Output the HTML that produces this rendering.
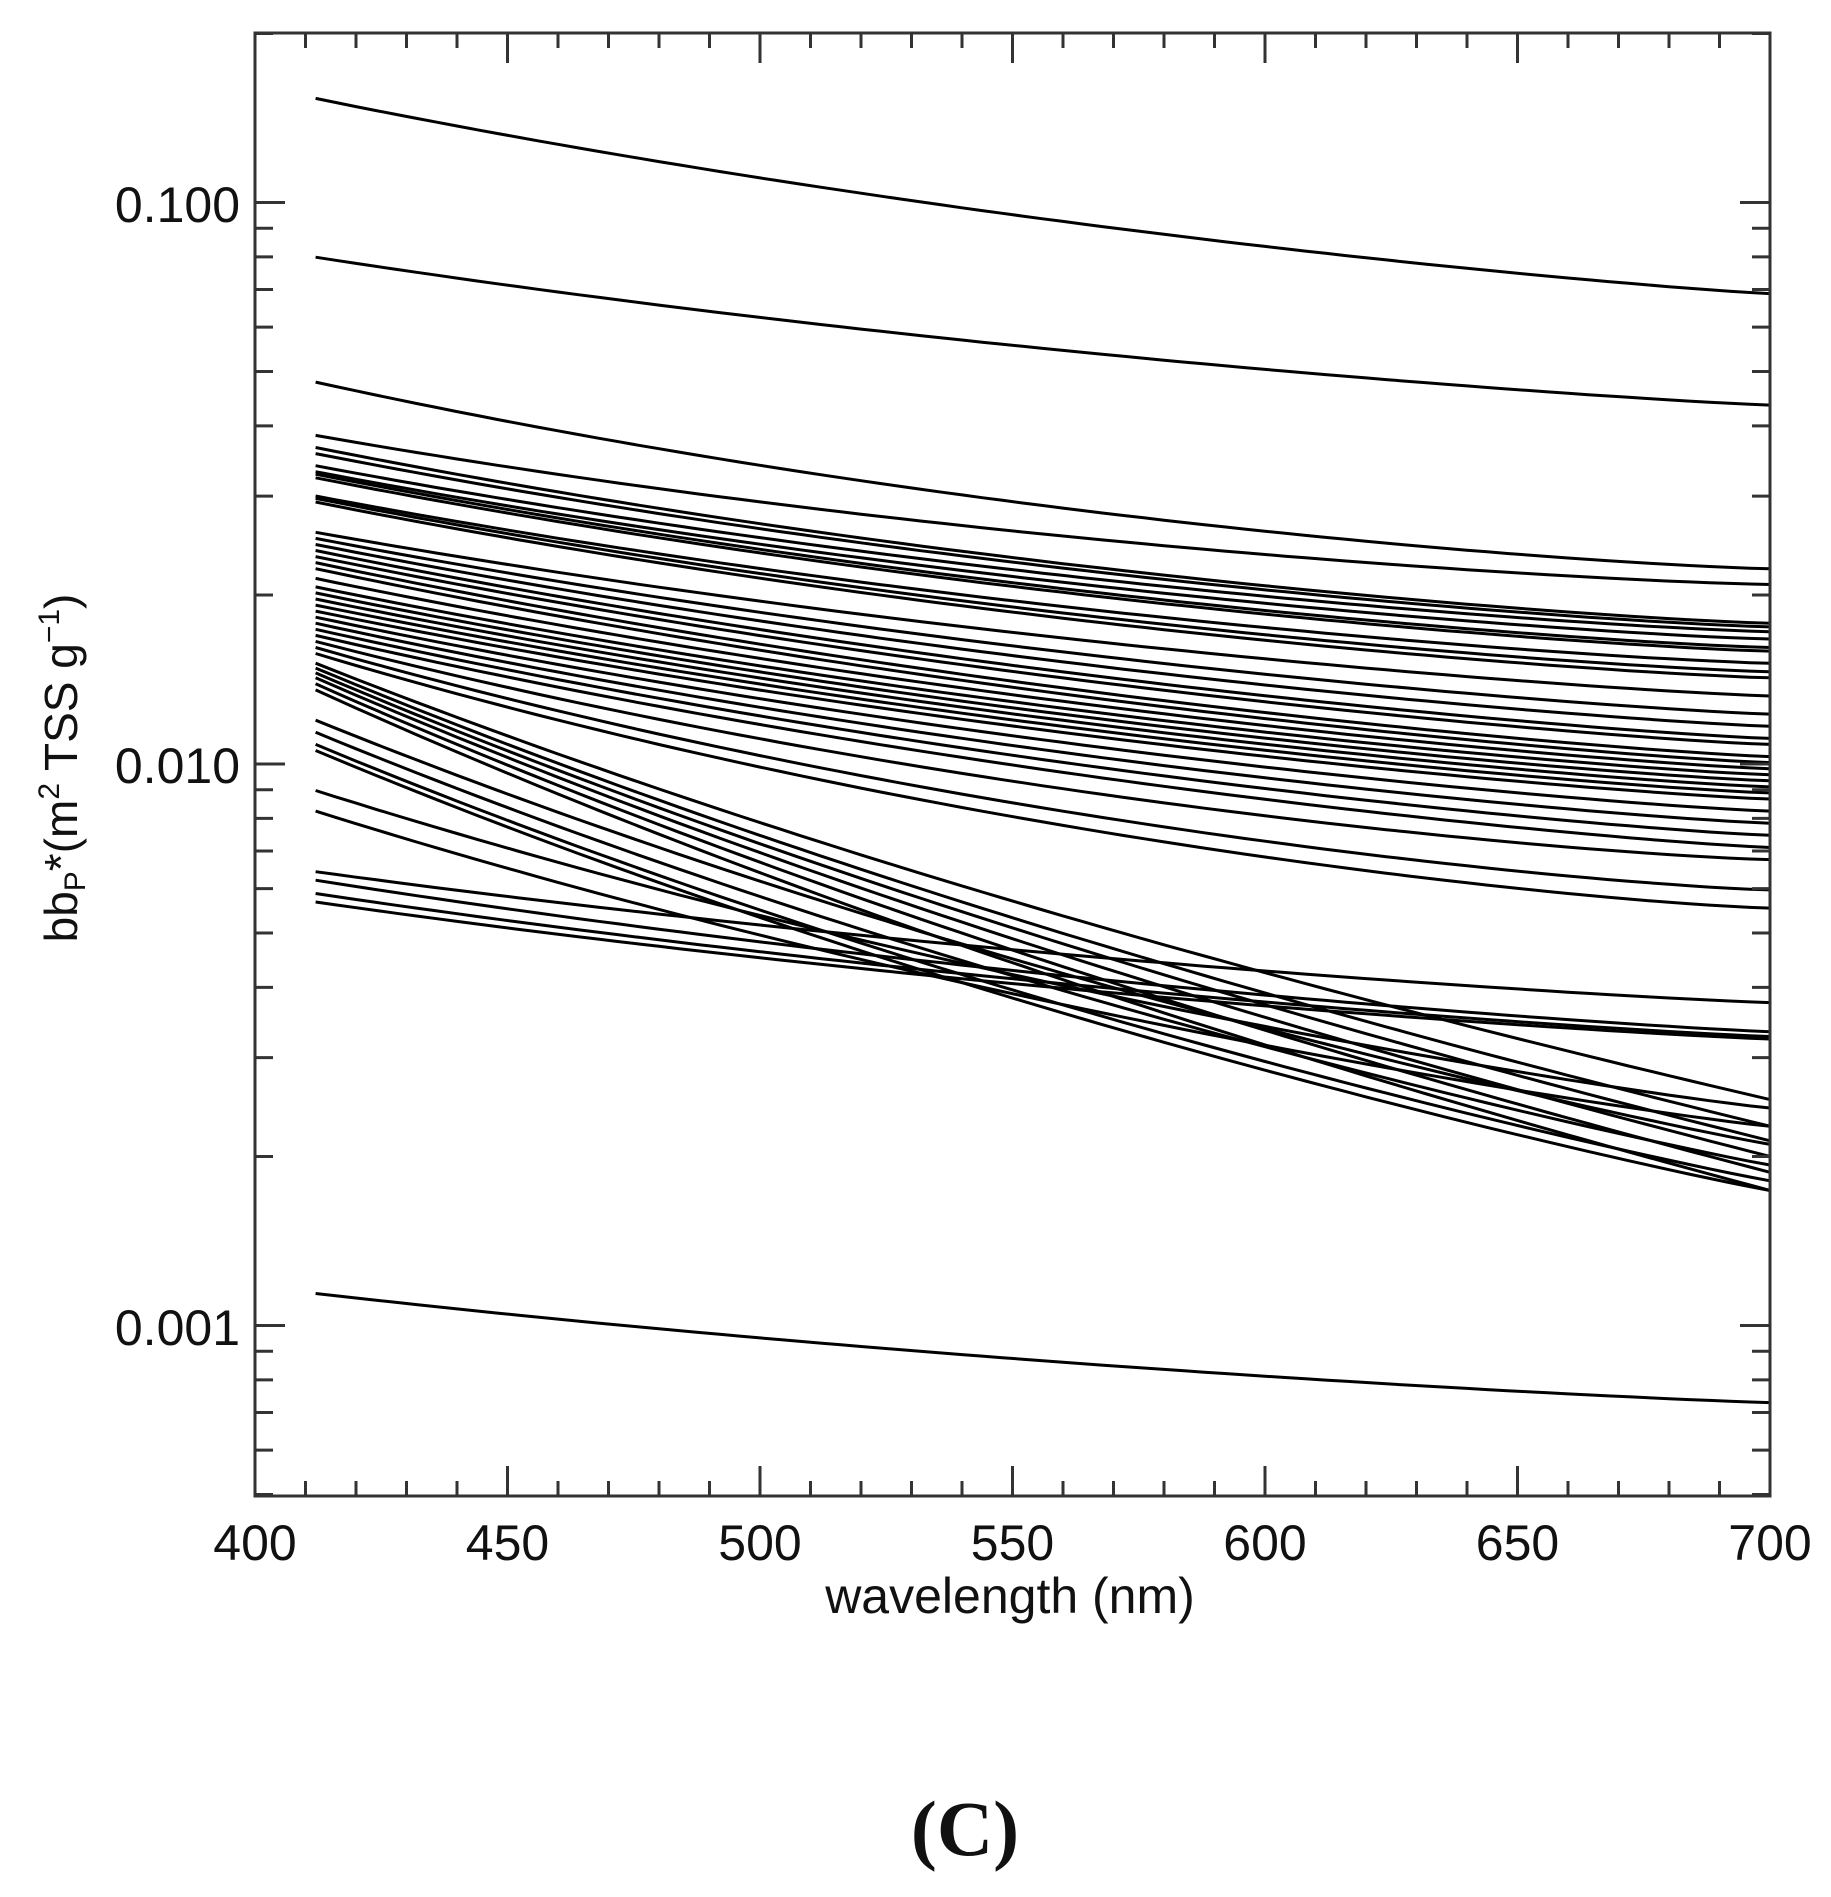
<!DOCTYPE html>
<html><head><meta charset="utf-8"><style>
html,body{margin:0;padding:0;background:#fff}
svg{display:block}
text{font-family:"Liberation Sans",Arial,sans-serif;fill:#111}
</style></head><body>
<svg id="s" width="1831" height="1897" viewBox="0 0 1831 1897" xmlns="http://www.w3.org/2000/svg">
<rect width="1831" height="1897" fill="#fff"/>
<g id="curves" fill="none" stroke="#000" stroke-width="3"></g>
<g id="ticks" stroke="#333" stroke-width="3"></g>
<rect x="255" y="33" width="1515" height="1463" fill="none" stroke="#333" stroke-width="3"/>
<g font-size="50" text-anchor="end">
<text x="240" y="222">0.100</text>
<text x="240" y="783">0.010</text>
<text x="240" y="1345">0.001</text>
</g>
<g font-size="50" text-anchor="middle">
<text x="255" y="1560">400</text>
<text x="507.5" y="1560">450</text>
<text x="760" y="1560">500</text>
<text x="1012.5" y="1560">550</text>
<text x="1265" y="1560">600</text>
<text x="1517.5" y="1560">650</text>
<text x="1770" y="1560">700</text>
<text x="1010" y="1613">wavelength (nm)</text>
</g>
<text font-size="46" text-anchor="middle" transform="rotate(-90 77 768)" x="77" y="768">bb<tspan font-size="30" dy="8">P</tspan><tspan dy="-8">*(m</tspan><tspan font-size="30" dy="-18">2</tspan><tspan dy="18"> TSS g</tspan><tspan font-size="30" dy="-18">−1</tspan><tspan dy="18">)</tspan></text>
<text x="965" y="1855" font-size="78" text-anchor="middle" style="font-family:'Liberation Serif','Times New Roman',serif;font-weight:bold">(C)</text>
</svg>
<script>
(function(){
var NS="http://www.w3.org/2000/svg";
function X(l){return 255+(l-400)*5.05;}
function A(d){return 33+(d-28)*1.212;}
var pairs=[[82,243,1.15],[213,335,1.15],[316,470,1.3],[360,483,1.3],
[370,515,1.25],[375,518,1.25],[385,522,1.25],[390,528,1.25],[392,535,1.25],[395,538,1.25],[410,548,1.25],[412,555,1.25],[415,560,1.25],
[440,575,1.2],[445,590,1.2],[450,600,1.2],[455,610,1.2],[460,615,1.2],[465,625,1.2],[470,630,1.2],[478,635,1.2],[485,640,1.2],[490,645,1.2],[495,650,1.2],[500,655,1.2],[505,660,1.2],[510,670,1.2],[515,680,1.2],[520,690,1.2],[525,700,1.2],[530,710,1.3],[535,735,1.3],[540,750,1.3],
[548,908,1.0],[552,930,1.0],[556,942,1.0],[560,955,1.0],[565,968,1.0],[570,983,1.0],
[595,945,1.05],[605,962,1.05],[615,975,1.05],[620,983,1.05],[653,915,1.1],[670,930,1.1],
[720,828,1.15],[727,852,1.15],[738,856,1.15],[745,858,1.15],[1068,1158,1.15]];
var g=document.getElementById("curves");
var L=Math.log(700/412);
pairs.forEach(function(p){
 var y0=A(p[0]),y1=A(p[1]),k=p[2],d="";
 for(var l=412;l<=700;l+=4){
  var f=Math.log(l/412)/L;
  var ff=1-Math.pow(1-f,k);
  var y=y0+(y1-y0)*ff;
  d+=(l==412?"M":"L")+X(l).toFixed(1)+","+y.toFixed(1);
 }
 var e=document.createElementNS(NS,"path");e.setAttribute("d",d);g.appendChild(e);
});
var t=document.getElementById("ticks"),s="";
for(var l=410;l<700;l+=10){var x=X(l),len=(l%50==0)?30:15;
 s+="M"+x+",1496v-"+len+"M"+x+",33v"+len;}
function Y(v){return 764-(Math.log10(v)+2)*561.5;}
var decs=[0.0001,0.001,0.01,0.1];
decs.forEach(function(dv){for(var k=1;k<=9;k++){var v=dv*k;if(v<0.0005||v>0.2)continue;var y=Y(v);if(y<33||y>1496)continue;var len=(k==1)?30:18;
 s+="M255,"+y.toFixed(1)+"h"+len+"M1770,"+y.toFixed(1)+"h-"+len;}});
var pe=document.createElementNS(NS,"path");pe.setAttribute("d",s);t.appendChild(pe);
})();
</script>
</body></html>
